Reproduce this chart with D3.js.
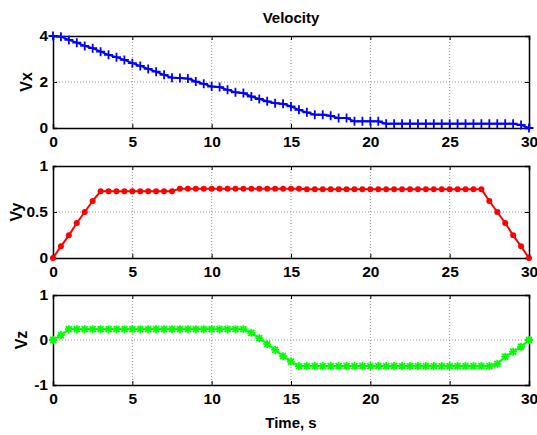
<!DOCTYPE html>
<html>
<head>
<meta charset="utf-8">
<script src="https://cdn.jsdelivr.net/npm/d3@7"></script>
<style>
  body { margin: 0; background: #fff; }
  text { font-family: "Liberation Sans", Arial, sans-serif; font-weight: bold; }
  .grid line { stroke: #777; stroke-dasharray: 1,2; stroke-width: 0.8; }
</style>
</head>
<body>
<script>
const time = d3.range(0, 30.01, 0.5);

const vx = [4.0, 3.97, 3.83, 3.71, 3.57, 3.47, 3.32, 3.18, 3.08, 2.96,
  2.82, 2.70, 2.57, 2.45, 2.31, 2.19, 2.17, 2.15, 2.02, 1.92,
  1.80, 1.78, 1.66, 1.55, 1.52, 1.37, 1.26, 1.16, 1.08, 1.05,
  0.94, 0.79, 0.68, 0.58, 0.58, 0.53, 0.43, 0.43, 0.29, 0.29,
  0.29, 0.29, 0.19, 0.19, 0.19, 0.19, 0.19, 0.19, 0.19, 0.19,
  0.19, 0.19, 0.19, 0.19, 0.19, 0.19, 0.19, 0.19, 0.19, 0.13, 0.0];

const vy = [0, 0.127, 0.246, 0.38, 0.5, 0.62, 0.725, 0.725, 0.725, 0.725,
  0.725, 0.725, 0.725, 0.725, 0.725, 0.725, 0.754, 0.754, 0.754, 0.754,
  0.754, 0.754, 0.754, 0.754, 0.754, 0.754, 0.754, 0.754, 0.754, 0.754,
  0.754, 0.754, 0.746, 0.746, 0.746, 0.746, 0.746, 0.746, 0.746, 0.746,
  0.746, 0.746, 0.746, 0.746, 0.746, 0.746, 0.746, 0.746, 0.746, 0.746,
  0.746, 0.746, 0.746, 0.746, 0.746, 0.62, 0.5, 0.38, 0.246, 0.127, 0];

const vz = [0, 0.11, 0.24, 0.24, 0.24, 0.24, 0.24, 0.24, 0.24, 0.24,
  0.24, 0.24, 0.24, 0.24, 0.24, 0.24, 0.24, 0.24, 0.24, 0.24,
  0.24, 0.24, 0.24, 0.24, 0.24, 0.16, 0.04, -0.09, -0.22, -0.36,
  -0.48, -0.58, -0.58, -0.58, -0.58, -0.58, -0.58, -0.58, -0.58, -0.58,
  -0.58, -0.58, -0.58, -0.58, -0.58, -0.58, -0.58, -0.58, -0.58, -0.58,
  -0.58, -0.58, -0.58, -0.58, -0.58, -0.58, -0.53, -0.37, -0.26, -0.15, 0];

const xTicks = [0, 5, 10, 15, 20, 25, 30];

const panels = [
  {label: "Vx", values: vx, domain: [0, 4], ticks: [0, 2, 4], color: "#0000ff", marker: "plus", top: 36, bottom: 128, labelX: 32},
  {label: "Vy", values: vy, domain: [0, 1], ticks: [0, 0.5, 1], color: "#ff0000", marker: "dot", top: 166, bottom: 258, labelX: 22},
  {label: "Vz", values: vz, domain: [-1, 1], ticks: [-1, 0, 1], color: "#00ff00", marker: "star", top: 295, bottom: 385, labelX: 27}
];

const width = 537, height = 435,
  left = 53, right = 529;

const svg = d3.select("body").append("svg")
  .attr("width", width)
  .attr("height", height);

const x = d3.scaleLinear().domain([0, 30]).range([left, right]);

const markers = {
  plus: "M-4.5,0H4.5M0,-4.5V4.5",
  star: "M-4,0H4M0,-4V4M-3,-3L3,3M-3,3L3,-3"
};

panels.forEach(p => {
  const y = d3.scaleLinear().domain(p.domain).range([p.bottom, p.top]);
  const g = svg.append("g");

  // grid
  const grid = g.append("g").attr("class", "grid");
  grid.selectAll(".gx").data(xTicks.slice(1, -1)).join("line")
    .attr("x1", d => x(d)).attr("x2", d => x(d))
    .attr("y1", p.top).attr("y2", p.bottom);
  grid.selectAll(".gy").data(p.ticks.slice(1, -1)).join("line")
    .attr("class", "gy")
    .attr("x1", left).attr("x2", right)
    .attr("y1", d => y(d)).attr("y2", d => y(d));

  // axes (ticks inside, mirrored)
  g.append("g").attr("transform", `translate(0,${p.bottom})`)
    .call(d3.axisBottom(x).tickValues(xTicks).tickSize(-4).tickPadding(8).tickFormat(d3.format("d")));
  g.append("g").attr("transform", `translate(0,${p.top})`)
    .call(d3.axisTop(x).tickValues(xTicks).tickSize(-4).tickFormat(""));
  g.append("g").attr("transform", `translate(${left},0)`)
    .call(d3.axisLeft(y).tickValues(p.ticks).tickSize(-4).tickPadding(5).tickFormat(d => String(d)));
  g.append("g").attr("transform", `translate(${right},0)`)
    .call(d3.axisRight(y).tickValues(p.ticks).tickSize(-4).tickFormat(""));

  g.selectAll(".domain").attr("stroke", "#000").attr("stroke-width", 1.5);
  g.selectAll(".tick line").attr("stroke", "#000");
  g.selectAll(".tick text")
    .attr("fill", "#000")
    .style("font-size", "15.5px")
    .style("font-weight", "bold")
    .style("font-family", "'Liberation Sans', Arial, sans-serif");

  g.append("text")
    .attr("transform", `translate(${p.labelX},${(p.top + p.bottom) / 2}) rotate(-90)`)
    .attr("text-anchor", "middle")
    .style("font-size", "16px")
    .text(p.label);

  const pts = time.map((t, i) => [t, p.values[i]]);

  g.append("path")
    .datum(pts)
    .attr("fill", "none")
    .attr("stroke", p.color)
    .attr("stroke-width", 2)
    .attr("d", d3.line().x(d => x(d[0])).y(d => y(d[1])));

  if (p.marker === "dot") {
    g.selectAll(".m").data(pts).join("circle")
      .attr("cx", d => x(d[0])).attr("cy", d => y(d[1]))
      .attr("r", 3).attr("fill", p.color);
  } else {
    g.selectAll(".m").data(pts).join("path")
      .attr("transform", d => `translate(${x(d[0])},${y(d[1])})`)
      .attr("d", markers[p.marker])
      .attr("stroke", p.color)
      .attr("stroke-width", 1.8)
      .attr("fill", "none");
  }
});

svg.append("text")
  .attr("x", (left + right) / 2).attr("y", 23)
  .attr("text-anchor", "middle")
  .style("font-size", "15px")
  .text("Velocity");

svg.append("text")
  .attr("x", (left + right) / 2).attr("y", 428)
  .attr("text-anchor", "middle")
  .style("font-size", "15px")
  .text("Time, s");
</script>
</body>
</html>
